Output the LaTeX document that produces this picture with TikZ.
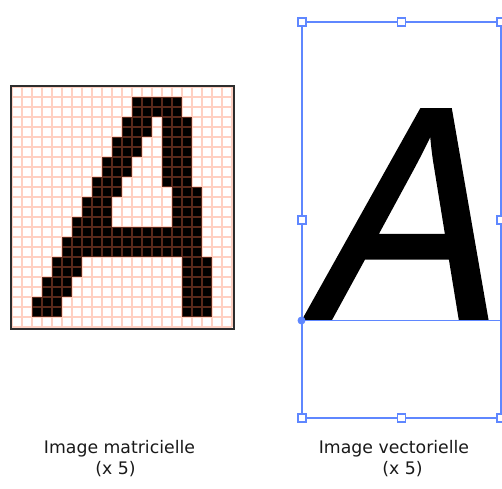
\documentclass[tikz,border=0pt]{standalone}
\usepackage{fontspec}
\setmainfont{DejaVu Sans}
\newfontfamily\arialfont[FakeBold=1.2]{Liberation Sans}
\definecolor{selblue}{RGB}{95,135,255}
\definecolor{gridpink}{RGB}{255,120,80}
\definecolor{framegray}{RGB}{45,45,45}
\begin{document}
\begin{tikzpicture}[x=1pt,y=-1pt,
  gridline/.style={draw=gridpink,line width=1.6pt,draw opacity=0.35},
  rasterframe/.style={draw=framegray,line width=2pt},
  selline/.style={draw=selblue,line width=1.3pt},
  handle/.style={rectangle,draw=selblue,fill=white,line width=1.3pt,minimum size=8pt,inner sep=0pt},
  origindot/.style={circle,fill=selblue,minimum size=8pt,inner sep=0pt},
  lbl/.style={font=\fontsize{17.3}{20}\selectfont,inner sep=0pt,anchor=base,text=black!90}]
\useasboundingbox (0,0) rectangle (502,488);
\clip (0,0) rectangle (502,488);
% ---------- raster A ----------
\foreach \r/\a/\b in {1/12/16,2/12/16,
  3/11/13,3/15/17,4/11/13,4/15/17,
  5/10/12,5/15/17,6/10/12,6/15/17,
  7/9/11,7/15/17,8/9/11,8/15/17,
  9/8/10,9/15/17,10/8/10,10/16/18,
  11/7/9,11/16/18,12/7/9,12/16/18,
  13/6/9,13/16/18,
  14/6/18,15/5/18,16/5/18,
  17/4/6,17/17/19,18/4/6,18/17/19,
  19/3/5,19/17/19,20/3/5,20/17/19,
  21/2/4,21/17/19,22/2/4,22/17/19}
  {\fill[black] ({12+10*\a},{87+10*\r}) rectangle ({22+10*\b},{97+10*\r});}
\draw[gridline]
  \foreach \k in {0,...,22} {({12+10*\k},87) -- ({12+10*\k},327)}
  \foreach \r in {0,...,24} {(12,{87+10*\r}) -- (232,{87+10*\r})};
\draw[rasterframe] (10.5,85.5) rectangle (233.5,328.5);
% ---------- vector A ----------
\begin{scope}[shift={(303,319)},xslant=0.19,xscale=0.905]
  \node[transform shape,anchor=base west,inner sep=0pt,
        font=\arialfont\fontsize{304}{300}\selectfont] (bigA) at (0,0) {\makebox[0pt][l]{A}};
\end{scope}
\coordinate (tl) at (302,22);
\coordinate (tm) at (401.5,22);
\coordinate (tr) at (501,22);
\coordinate (ml) at (302,220);
\coordinate (mr) at (501,220);
\coordinate (bl) at (302,418);
\coordinate (bm) at (401.5,418);
\coordinate (br) at (501,418);
\coordinate (basel) at (302,320.5);
\coordinate (baser) at (503,320.5);
\draw[selline] (tl) -- (tr) -- (br) -- (bl) -- cycle;
\draw[selline] (basel) -- (baser);
\foreach \h in {tl,tm,tr,ml,mr,bl,bm,br} {\node[handle] (h-\h) at (\h) {};}
\node[origindot] (odot) at (301.5,320.5) {};
% ---------- labels ----------
\node[lbl] (lab1) at (119.5,453.5) {Image matricielle};
\node[lbl] (lab2) at (115.5,474) {(x 5)};
\node[lbl] (lab3) at (394,453.5) {Image vectorielle};
\node[lbl] (lab4) at (402.5,474) {(x 5)};
\end{tikzpicture}
\end{document}
